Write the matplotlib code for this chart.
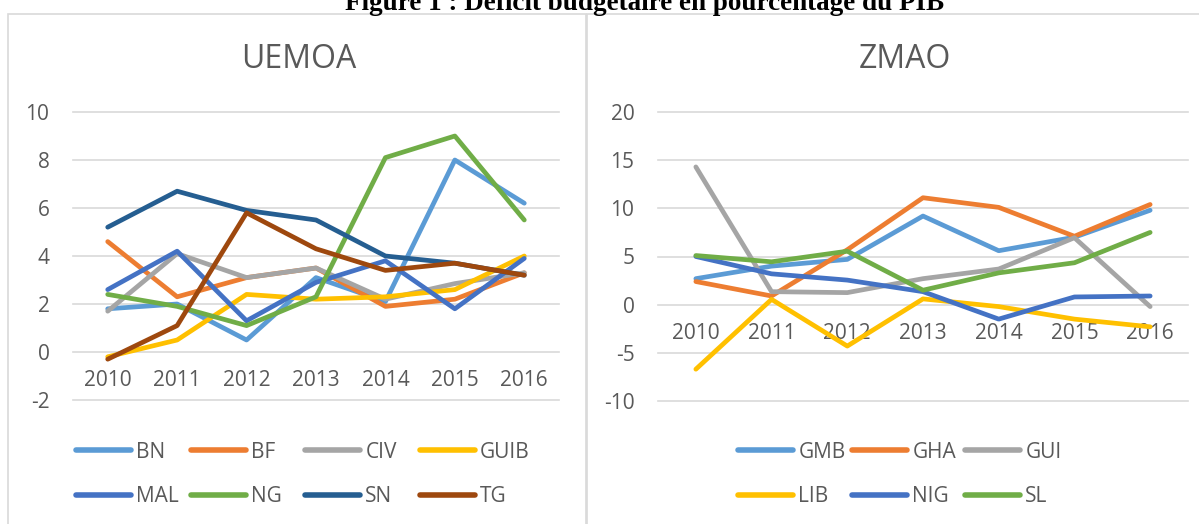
import matplotlib.pyplot as plt
from matplotlib.patches import Rectangle

years = ['2010', '2011', '2012', '2013', '2014', '2015', '2016']

# UEMOA
uemoa_names = ['BN', 'BF', 'CIV', 'GUIB', 'MAL', 'NG', 'SN', 'TG']
bn = [1.8, 2.0, 0.5, 3.1, 2.1, 8.0, 6.2]
bf = [4.6, 2.3, 3.1, 3.5, 1.9, 2.2, 3.3]
civ = [1.7, 4.1, 3.1, 3.5, 2.2, 2.85, 3.3]
guib = [-0.2, 0.5, 2.4, 2.2, 2.3, 2.6, 4.0]
mal = [2.6, 4.2, 1.3, 2.9, 3.8, 1.8, 3.9]
ng = [2.4, 1.9, 1.1, 2.3, 8.1, 9.0, 5.5]
sn = [5.2, 6.7, 5.9, 5.5, 4.0, 3.7, 3.2]
tg = [-0.3, 1.1, 5.8, 4.3, 3.4, 3.7, 3.2]
uemoa_series = [bn, bf, civ, guib, mal, ng, sn, tg]
uemoa_colors = ['#5B9BD5', '#ED7D31', '#A5A5A5', '#FFC000',
                '#4472C4', '#70AD47', '#255E91', '#9E480E']
uemoa_ticks = [-2, 0, 2, 4, 6, 8, 10]

# ZMAO
zmao_names = ['GMB', 'GHA', 'GUI', 'LIB', 'NIG', 'SL']
gmb = [2.7, 4.0, 4.7, 9.2, 5.6, 7.0, 9.8]
gha = [2.4, 0.9, 5.7, 11.1, 10.1, 7.1, 10.4]
gui = [14.3, 1.35, 1.25, 2.7, 3.7, 6.95, -0.2]
lib = [-6.7, 0.55, -4.3, 0.6, -0.2, -1.5, -2.3]
nig = [5.0, 3.2, 2.55, 1.35, -1.5, 0.8, 0.9]
sl = [5.1, 4.45, 5.55, 1.5, 3.3, 4.35, 7.5]
zmao_series = [gmb, gha, gui, lib, nig, sl]
zmao_colors = ['#5B9BD5', '#ED7D31', '#A5A5A5', '#FFC000', '#4472C4', '#70AD47']
zmao_ticks = [-10, -5, 0, 5, 10, 15, 20]

W, H = 1199, 524
TXT = '#595959'
GRID = '#D9D9D9'
FONT = 'Open Sans'

plt.rcParams['axes.unicode_minus'] = False


def fx(px):
    return px / W


def fy(py):
    return 1 - py / H


fig = plt.figure(figsize=(W / 100, H / 100), dpi=100)
fig.patch.set_facecolor('white')

# chart frames
for x0, x1 in [(8, 586), (587, 1215)]:
    fig.add_artist(Rectangle((fx(x0), fy(560)), fx(x1) - fx(x0), fy(14) - fy(560),
                             transform=fig.transFigure, fill=False, ec=GRID, lw=1.2))

# page caption, cut off at the top as in the source screenshot
fig.text(fx(645), fy(10), 'Figure 1 : Déficit budgétaire en pourcentage du PIB',
         family='Liberation Serif', weight='bold', size=19.5, ha='center', va='baseline')


def panel(rect, title, title_x, names, series, colors, ticks, leg_x):
    ax = fig.add_axes([fx(rect[0]), fy(rect[3]), fx(rect[1]) - fx(rect[0]),
                       fy(rect[2]) - fy(rect[3])])
    lines = []
    for name, vals, c in zip(names, series, colors):
        ln, = ax.plot(range(len(years)), vals, color=c, lw=3.4, label=name,
                      solid_capstyle='round', solid_joinstyle='round')
        lines.append(ln)
    ax.set_xlim(-0.5, len(years) - 0.5)
    ax.set_ylim(ticks[0], ticks[-1])
    ax.set_yticks(ticks)
    ax.set_xticks(range(len(years)))
    ax.set_xticklabels(years)
    ax.grid(axis='y', color=GRID, lw=1.2)
    for g in ax.get_ygridlines():
        g.set_clip_on(False)
    ax.set_axisbelow(True)
    for s in ['top', 'right', 'left']:
        ax.spines[s].set_visible(False)
    ax.spines['bottom'].set_position(('data', 0))
    ax.spines['bottom'].set_visible(False)
    ax.tick_params(axis='both', length=0, labelsize=15, labelcolor=TXT)
    ax.tick_params(axis='y', pad=17)
    ax.tick_params(axis='x', pad=13)
    for lab in ax.get_xticklabels() + ax.get_yticklabels():
        lab.set_family(FONT)
    fig.text(fx(title_x), fy(60), title, family=FONT, size=23, color=TXT,
             ha='center', va='center')
    ncol = len(leg_x)
    for i, ln in enumerate(lines):
        x = leg_x[i % ncol]
        y = [452, 497][i // ncol]
        leg = fig.legend([ln], [ln.get_label()], loc='center left',
                         bbox_to_anchor=(fx(x), fy(y)), frameon=False,
                         borderpad=0, borderaxespad=0, handlelength=2.65,
                         handletextpad=0.25,
                         prop={'family': FONT, 'size': 15})
        leg.get_lines()[0].set_linewidth(4)
        leg.get_lines()[0].set_solid_capstyle('round')
        for t in leg.get_texts():
            t.set_color(TXT)
    return ax


panel((73, 559, 112, 400), 'UEMOA', 299, uemoa_names, uemoa_series, uemoa_colors,
      uemoa_ticks, [76, 190.5, 305, 419.5])
panel((658, 1188, 112, 401), 'ZMAO', 905, zmao_names, zmao_series, zmao_colors,
      zmao_ticks, [738, 852, 965])

fig.savefig('out.png', dpi=100)
